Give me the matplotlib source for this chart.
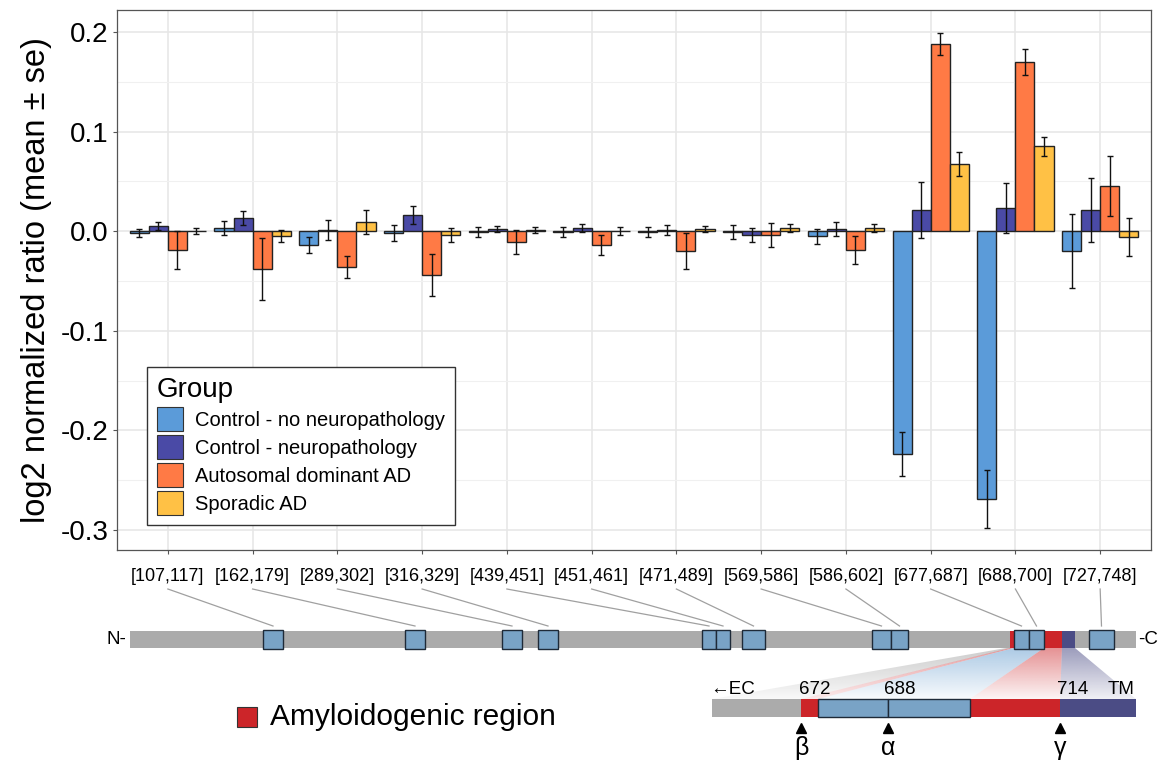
import numpy as np
import matplotlib
matplotlib.use("Agg")
import matplotlib.pyplot as plt
from matplotlib.patches import Patch, Rectangle, Polygon
from matplotlib.colors import to_rgb

plt.rcParams['font.family'] = ['Liberation Sans', 'DejaVu Sans']

# peptides (x categories)
peptides = ['[107,117]', '[162,179]', '[289,302]', '[316,329]', '[439,451]', '[451,461]',
            '[471,489]', '[569,586]', '[586,602]', '[677,687]', '[688,700]', '[727,748]']
groups = ['Control - no neuropathology', 'Control - neuropathology',
          'Autosomal dominant AD', 'Sporadic AD']

# mean log2 ratio per group
ctrl_no_np = [-0.002, 0.003, -0.014, -0.002, -0.001, -0.001, -0.001, -0.001, -0.005, -0.224, -0.269, -0.020]
ctrl_np = [0.005, 0.013, 0.001, 0.016, 0.002, 0.003, 0.001, -0.004, 0.002, 0.021, 0.023, 0.021]
adad = [-0.019, -0.038, -0.036, -0.044, -0.011, -0.014, -0.020, -0.004, -0.019, 0.188, 0.170, 0.045]
sad = [0.000, -0.005, 0.009, -0.004, 0.001, 0.000, 0.002, 0.003, 0.003, 0.067, 0.085, -0.006]

# standard errors
se_ctrl_no_np = [0.004, 0.007, 0.008, 0.008, 0.005, 0.005, 0.005, 0.007, 0.0075, 0.022, 0.029, 0.037]
se_ctrl_np = [0.004, 0.007, 0.010, 0.009, 0.003, 0.004, 0.005, 0.007, 0.007, 0.028, 0.025, 0.032]
se_adad = [0.019, 0.031, 0.011, 0.021, 0.012, 0.010, 0.018, 0.012, 0.014, 0.011, 0.013, 0.030]
se_sad = [0.003, 0.006, 0.012, 0.007, 0.003, 0.004, 0.003, 0.004, 0.004, 0.012, 0.0095, 0.019]

colors = ['#5B9BD9', '#4A4AA6', '#FF7A45', '#FFC145']

W, H = 1163, 762
fig = plt.figure(figsize=(W / 100, H / 100), dpi=100)
ax = fig.add_axes([117 / W, 1 - 550 / H, (1151 - 117) / W, (550 - 10) / H])

means = [ctrl_no_np, ctrl_np, adad, sad]
ses = [se_ctrl_no_np, se_ctrl_np, se_adad, se_sad]
x = np.arange(1, len(peptides) + 1)
bw = 0.9 / 4
for k in range(4):
    xs = x - 0.45 + bw * (k + 0.5)
    ax.bar(xs, means[k], width=bw, color=colors[k], edgecolor='#222222', linewidth=1.0,
           zorder=3, label=groups[k])
    ax.errorbar(xs, means[k], yerr=ses[k], fmt='none', ecolor='#111111', elinewidth=1.0,
                capsize=2.5, capthick=1.0, zorder=4)

ax.set_xlim(0.4, 12.6)
ax.set_ylim(-0.320, 0.222)
ax.set_xticks(x)
ax.set_xticklabels(peptides, fontsize=13)
ax.set_yticks([0.2, 0.1, 0.0, -0.1, -0.2, -0.3])
ax.set_yticklabels(['0.2', '0.1', '0.0', '-0.1', '-0.2', '-0.3'], fontsize=20)
ax.set_yticks([0.15, 0.05, -0.05, -0.15, -0.25], minor=True)
ax.set_xticks([], minor=True)
ax.grid(True, which='major', color='#E6E6E6', linewidth=1.1, zorder=0)
ax.grid(True, which='minor', axis='y', color='#F0F0F0', linewidth=0.8, zorder=0)
ax.tick_params(axis='both', which='major', color='#555555', length=3, width=0.8, pad=3)
ax.tick_params(axis='y', which='minor', length=0)
ax.tick_params(axis='x', pad=10)
for s in ax.spines.values():
    s.set_color('#555555')
    s.set_linewidth(0.9)
ax.set_ylabel('log2 normalized ratio (mean ± se)', fontsize=23.5, labelpad=6)

handles = [Patch(facecolor=c, edgecolor='#333333', linewidth=0.8) for c in colors]
leg = ax.legend(handles, groups, title='Group', loc='upper left',
                bbox_to_anchor=(147 / W, 1 - 367 / H), bbox_transform=fig.transFigure,
                fontsize=14.5, title_fontsize=20, frameon=True, fancybox=False,
                framealpha=1, edgecolor='#333333', handlelength=1.3, handleheight=1.45,
                labelspacing=0.2, handletextpad=0.6, borderpad=0.5, borderaxespad=0,
                alignment='left')
leg.get_frame().set_linewidth(1.0)
leg.set_zorder(10)

# protein schematic (drawn in figure pixel space)
dax = fig.add_axes([0, 0, 1, 1], facecolor='none')
dax.set_xlim(0, W)
dax.set_ylim(H, 0)
dax.axis('off')

box_fill = '#79A3C6'
box_edge = '#1E2A38'
red = '#CC2529'
navy = '#4B4C85'
gray = '#ABABAB'

bar_x0, bar_x1, bar_y0, bar_y1 = 130, 1136, 631, 648
box_spans = [(263, 283), (405, 425), (502, 522), (538, 558), (702, 716), (716, 730),
             (742, 765), (872, 891), (891, 908), (1014, 1029), (1029, 1044), (1089, 1114)]


def grad_wedge(tx0, tx1, bx0, bx1, ty, by, color, a0, a1):
    poly = Polygon([(tx0, ty), (tx1, ty), (bx1, by), (bx0, by)], closed=True,
                   facecolor='none', edgecolor='none')
    dax.add_patch(poly)
    n = 100
    img = np.zeros((n, 1, 4))
    img[:, 0, :3] = to_rgb(color)
    img[:, 0, 3] = np.linspace(a0, a1, n)
    xmin, xmax = min(tx0, bx0), max(tx1, bx1)
    im = dax.imshow(img, extent=(xmin, xmax, by, ty), origin='upper', aspect='auto',
                    interpolation='bilinear', zorder=1)
    im.set_clip_path(poly)


ins_y0, ins_y1 = 699, 717
grad_wedge(1006, 1011, 712, 801, bar_y1, ins_y0, '#9A9A9A', 0.5, 0.06)
grad_wedge(1010, 1014, 801, 818, bar_y1, ins_y0, red, 0.45, 0.10)
grad_wedge(1014, 1044, 818, 970, bar_y1, ins_y0, '#6A9FD0', 0.55, 0.05)
grad_wedge(1044, 1062, 970, 1060, bar_y1, ins_y0, red, 0.5, 0.05)
grad_wedge(1062, 1075, 1060, 1136, bar_y1, ins_y0, navy, 0.55, 0.08)

dax.add_patch(Rectangle((bar_x0, bar_y0), bar_x1 - bar_x0, bar_y1 - bar_y0,
                        facecolor=gray, edgecolor='none', zorder=2))
dax.add_patch(Rectangle((1010, bar_y0), 52, bar_y1 - bar_y0, facecolor=red,
                        edgecolor='none', zorder=2))
dax.add_patch(Rectangle((1062, bar_y0), 13, bar_y1 - bar_y0, facecolor=navy,
                        edgecolor='none', zorder=2))
for (b0, b1) in box_spans:
    dax.add_patch(Rectangle((b0, bar_y0 - 1), b1 - b0, bar_y1 - bar_y0 + 2,
                            facecolor=box_fill, edgecolor=box_edge, linewidth=1.0, zorder=3))
dax.text(126, (bar_y0 + bar_y1) / 2, 'N-', ha='right', va='center', fontsize=13.5)
dax.text(1138, (bar_y0 + bar_y1) / 2, '-C', ha='left', va='center', fontsize=13.5)

# connector lines from tick labels to peptide boxes
for i, (b0, b1) in enumerate(box_spans):
    px = ax.transData.transform((x[i], 0))[0]
    dax.plot([px, (b0 + b1) / 2], [589, 626], color='#A0A0A0', linewidth=0.9, zorder=1)

# zoomed inset bar
dax.add_patch(Rectangle((712, ins_y0), 89, ins_y1 - ins_y0, facecolor=gray, edgecolor='none', zorder=2))
dax.add_patch(Rectangle((801, ins_y0), 17, ins_y1 - ins_y0, facecolor=red, edgecolor='none', zorder=2))
dax.add_patch(Rectangle((970, ins_y0), 90, ins_y1 - ins_y0, facecolor=red, edgecolor='none', zorder=2))
dax.add_patch(Rectangle((1060, ins_y0), 76, ins_y1 - ins_y0, facecolor=navy, edgecolor='none', zorder=2))
dax.add_patch(Rectangle((818, ins_y0), 70, ins_y1 - ins_y0, facecolor=box_fill,
                        edgecolor=box_edge, linewidth=1.0, zorder=3))
dax.add_patch(Rectangle((888, ins_y0), 82, ins_y1 - ins_y0, facecolor=box_fill,
                        edgecolor=box_edge, linewidth=1.0, zorder=3))

dax.text(710, 690, '←EC', ha='left', va='center', fontsize=13.5)
for xx, t in [(815, '672'), (900, '688'), (1073, '714'), (1121, 'TM')]:
    dax.text(xx, 689, t, ha='center', va='center', fontsize=13.5)
for xx, g in [(801, 'β'), (888, 'α'), (1060, 'γ')]:
    dax.plot(xx, 728, marker='^', color='black', markersize=7, zorder=4)
    dax.text(xx, 748, g, ha='center', va='center', fontsize=18)

# amyloidogenic legend
dax.add_patch(Rectangle((237, 707), 20, 20, facecolor=red, edgecolor='#333333',
                        linewidth=0.8, zorder=3))
dax.text(270, 717, 'Amyloidogenic region', ha='left', va='center', fontsize=21.5)

fig.savefig('out.png', dpi=100)
